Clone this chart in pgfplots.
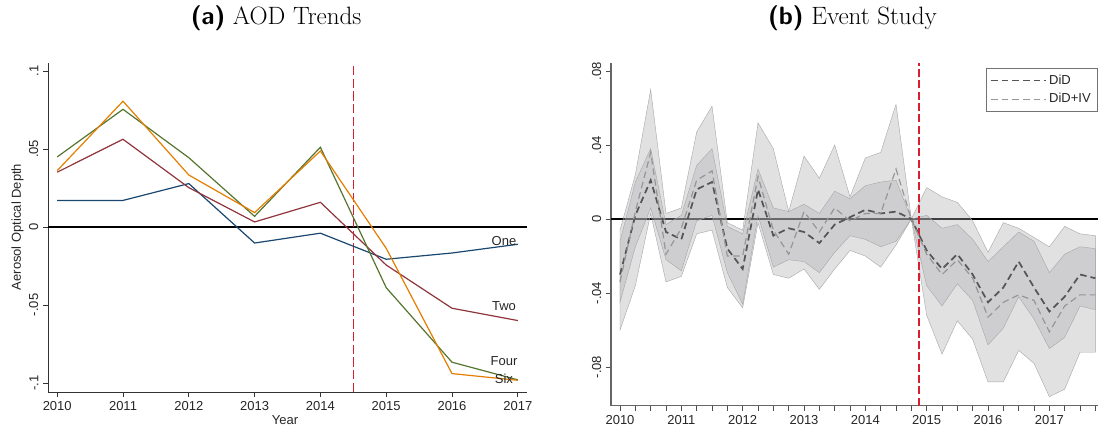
\documentclass[border=0pt]{standalone}
\usepackage{fontspec}
\usepackage{pgfplots}
\pgfplotsset{compat=1.18}
\usepackage{pgfplotstable}
\newfontfamily\arial{Liberation Sans}
\definecolor{sNavy}{RGB}{26,71,111}
\definecolor{sMaroon}{RGB}{144,53,59}
\definecolor{sGreen}{RGB}{85,117,47}
\definecolor{sOrange}{RGB}{227,126,0}
\definecolor{redB}{RGB}{215,30,50}
\definecolor{bandc}{RGB}{173,174,177}
\definecolor{didc}{RGB}{85,85,85}
\definecolor{ivc}{RGB}{150,150,150}

% x = years since 2010 (quarterly)
\pgfplotstableread{
x did iv
0.00 -0.030 -0.034
0.25 0.002 0.004
0.50 0.021 0.036
0.75 -0.007 -0.019
1.00 -0.011 -0.005
1.25 0.016 0.021
1.50 0.020 0.026
1.75 -0.016 -0.020
2.00 -0.027 -0.020
2.25 0.016 0.023
2.50 -0.009 -0.006
2.75 -0.005 -0.019
3.00 -0.007 0.004
3.25 -0.013 -0.007
3.50 -0.003 0.006
3.75 0.001 -0.001
4.00 0.005 0.003
4.25 0.003 0.003
4.50 0.004 0.027
4.75 0.000 0.000
5.00 -0.017 -0.019
5.25 -0.027 -0.030
5.50 -0.019 -0.022
5.75 -0.030 -0.032
6.00 -0.045 -0.053
6.25 -0.037 -0.045
6.50 -0.023 -0.041
6.75 -0.037 -0.044
7.00 -0.050 -0.061
7.25 -0.042 -0.047
7.50 -0.030 -0.041
7.75 -0.032 -0.041
}\evt

% outer (DiD+IV) confidence band: upper edge left to right, then lower edge right to left
\pgfplotstableread{
x y
0.00 -0.006
0.25 0.024
0.50 0.070
0.75 0.003
1.00 0.006
1.25 0.047
1.50 0.061
1.75 -0.002
2.00 -0.006
2.25 0.052
2.50 0.038
2.75 0.004
3.00 0.034
3.25 0.022
3.50 0.040
3.75 0.012
4.00 0.033
4.25 0.036
4.50 0.062
4.75 0.000
5.00 0.017
5.25 0.012
5.50 0.009
5.75 -0.001
6.00 -0.018
6.25 -0.002
6.50 -0.005
6.75 -0.010
7.00 -0.015
7.25 -0.004
7.50 -0.008
7.75 -0.009
7.75 -0.072
7.50 -0.072
7.25 -0.092
7.00 -0.096
6.75 -0.078
6.50 -0.071
6.25 -0.088
6.00 -0.088
5.75 -0.065
5.50 -0.055
5.25 -0.073
5.00 -0.052
4.75 0.000
4.50 -0.014
4.25 -0.026
4.00 -0.020
3.75 -0.017
3.50 -0.027
3.25 -0.038
3.00 -0.027
2.75 -0.032
2.50 -0.030
2.25 -0.002
2.00 -0.048
1.75 -0.037
1.50 -0.006
1.25 -0.008
1.00 -0.031
0.75 -0.034
0.50 0.003
0.25 -0.036
0.00 -0.060
}\outband

% inner (DiD) confidence band
\pgfplotstableread{
x y
0.00 -0.012
0.25 0.020
0.50 0.038
0.75 -0.003
1.00 0.002
1.25 0.029
1.50 0.038
1.75 -0.004
2.00 -0.008
2.25 0.027
2.50 0.006
2.75 0.004
3.00 0.008
3.25 0.003
3.50 0.015
3.75 0.011
4.00 0.018
4.25 0.020
4.50 0.021
4.75 0.000
5.00 0.002
5.25 -0.005
5.50 -0.003
5.75 -0.011
6.00 -0.023
6.25 -0.015
6.50 -0.007
6.75 -0.012
7.00 -0.029
7.25 -0.019
7.50 -0.015
7.75 -0.016
7.75 -0.049
7.50 -0.047
7.25 -0.064
7.00 -0.070
6.75 -0.054
6.50 -0.042
6.25 -0.059
6.00 -0.068
5.75 -0.044
5.50 -0.035
5.25 -0.047
5.00 -0.036
4.75 0.000
4.50 -0.012
4.25 -0.015
4.00 -0.011
3.75 -0.009
3.50 -0.018
3.25 -0.029
3.00 -0.023
2.75 -0.022
2.50 -0.026
2.25 0.002
2.00 -0.046
1.75 -0.029
1.50 0.002
1.25 -0.001
1.00 -0.028
0.75 -0.022
0.50 0.006
0.25 -0.015
0.00 -0.045
}\inband

\begin{document}
\begin{tikzpicture}
\path (0,0) rectangle (824.25pt,321.75pt);

% ---------- Panel (a)
\begin{axis}[
  at={(36pt,27.75pt)}, anchor=south west, scale only axis,
  width=359.25pt, height=246.75pt,
  xmin=-0.14, xmax=7.14, ymin=-0.1058, ymax=0.1051,
  axis x line*=bottom, axis y line*=left,
  axis line style={-, draw=black!80, line width=0.7pt},
  xtick={0,1,2,3,4,5,6,7},
  xticklabels={2010,2011,2012,2013,2014,2015,2016,2017},
  ytick={-0.1,-0.05,0,0.05,0.1},
  yticklabels={-.1,-.05,0,.05,.1},
  yticklabel style={rotate=90, anchor=south},
  tick align=outside, major tick length=3.75pt,
  tick style={black!80, line width=0.6pt},
  ticklabel style={font=\arial\fontsize{9.75}{11}\selectfont, text=black!85},
]
\addplot[black, line width=0.9pt, forget plot] coordinates {(-0.14,0) (7.14,0)};
\addplot[redB, line width=1pt, dash pattern=on 7pt off 2.5pt, forget plot] coordinates {(4.5,-0.1058) (4.5,0.1051)};
\addplot[sNavy, line width=0.9pt] coordinates {
(0,0.0169) (1,0.0170) (2,0.0278) (3,-0.0103) (4,-0.0040) (5,-0.0207) (6,-0.0167) (7,-0.0111)};
\addplot[sMaroon, line width=0.9pt] coordinates {
(0,0.0351) (1,0.0562) (2,0.0252) (3,0.0032) (4,0.0158) (5,-0.0244) (6,-0.0521) (7,-0.0600)};
\addplot[sGreen, line width=0.9pt] coordinates {
(0,0.0449) (1,0.0754) (2,0.0444) (3,0.0068) (4,0.0511) (5,-0.0389) (6,-0.0867) (7,-0.0980)};
\addplot[sOrange, line width=0.9pt] coordinates {
(0,0.0361) (1,0.0806) (2,0.0333) (3,0.0092) (4,0.0487) (5,-0.0137) (6,-0.0940) (7,-0.0983)};
\node[font=\arial\fontsize{9.75}{11}\selectfont, text=black!85] at (axis cs:6.79,-0.0088) {One};
\node[font=\arial\fontsize{9.75}{11}\selectfont, text=black!85] at (axis cs:6.79,-0.0506) {Two};
\node[font=\arial\fontsize{9.75}{11}\selectfont, text=black!85] at (axis cs:6.79,-0.0859) {Four};
\node[font=\arial\fontsize{9.75}{11}\selectfont, text=black!85] at (axis cs:6.79,-0.0974) {Six};
\end{axis}

% ---------- Panel (b)
\begin{axis}[
  at={(458.25pt,17.475pt)}, anchor=south west, scale only axis,
  width=365.55pt, height=257.25pt,
  xmin=-0.147, xmax=7.8, ymin=-0.1009, ymax=0.0845,
  axis x line*=bottom, axis y line*=left,
  axis line style={-, draw=black!60, line width=0.8pt},
  xtick={0,1,2,3,4,5,6,7},
  xticklabels={2010,2011,2012,2013,2014,2015,2016,2017},
  minor xtick={0.25,0.5,0.75,1.25,1.5,1.75,2.25,2.5,2.75,3.25,3.5,3.75,4.25,4.5,4.75,5.25,5.5,5.75,6.25,6.5,6.75,7.25,7.5,7.75},
  ytick={-0.08,-0.04,0,0.04,0.08},
  yticklabels={-.08,-.04,0,.04,.08},
  yticklabel style={rotate=90, anchor=south},
  tick align=outside, major tick length=3.75pt, minor tick length=3.75pt,
  tick style={black!70, line width=0.6pt},
  ticklabel style={font=\arial\fontsize{9.75}{11}\selectfont, text=black!85},
  legend style={at={(1,1)}, anchor=north east, xshift=-0.5pt, yshift=-3.75pt,
    draw=black!55, line width=0.6pt, font=\arial\fontsize{9.75}{11}\selectfont,
    inner xsep=3pt, inner ysep=3pt, row sep=1.5pt, text=black!85},
  legend cell align=left,
  legend image code/.code={\draw[#1] (0pt,0pt) -- (41pt,0pt);},
]
\addplot[black, line width=1.2pt, forget plot] coordinates {(-0.147,0) (7.8,0)};
\addplot[fill=bandc, fill opacity=0.37, draw=black!35, line width=0.3pt, forget plot] table[x=x, y=y] {\outband} -- cycle;
\addplot[fill=bandc, fill opacity=0.37, draw=black!35, line width=0.3pt, forget plot] table[x=x, y=y] {\inband} -- cycle;
\addplot[draw=redB, line width=0.9pt, dash pattern=on 6pt off 2.5pt, forget plot] coordinates {(4.875,-0.1009) (4.875,0.0845)};
\addplot[didc, line width=1.3pt, dash pattern=on 5pt off 3pt] table[x=x, y=did] {\evt};
\addlegendentry{DiD}
\addplot[ivc, line width=0.9pt, dash pattern=on 5pt off 3pt] table[x=x, y=iv] {\evt};
\addlegendentry{DiD+IV}
\end{axis}

% ---------- Titles and axis labels
\node[font=\fontsize{18.8}{22}\selectfont, anchor=base east, inner sep=0pt] at (271.3pt,303pt) {{\sffamily\bfseries (a)} AOD Trends};
\node[font=\fontsize{18.8}{22}\selectfont, anchor=base east, inner sep=0pt] at (702.75pt,303pt) {{\sffamily\bfseries (b)} Event Study};
\node[font=\arial\fontsize{9.75}{11}\selectfont, text=black!85, rotate=90] at (13.1pt,151.5pt) {Aerosol Optical Depth};
\node[font=\arial\fontsize{9.75}{11}\selectfont, text=black!85] at (213.75pt,6.75pt) {Year};
\end{tikzpicture}
\end{document}
